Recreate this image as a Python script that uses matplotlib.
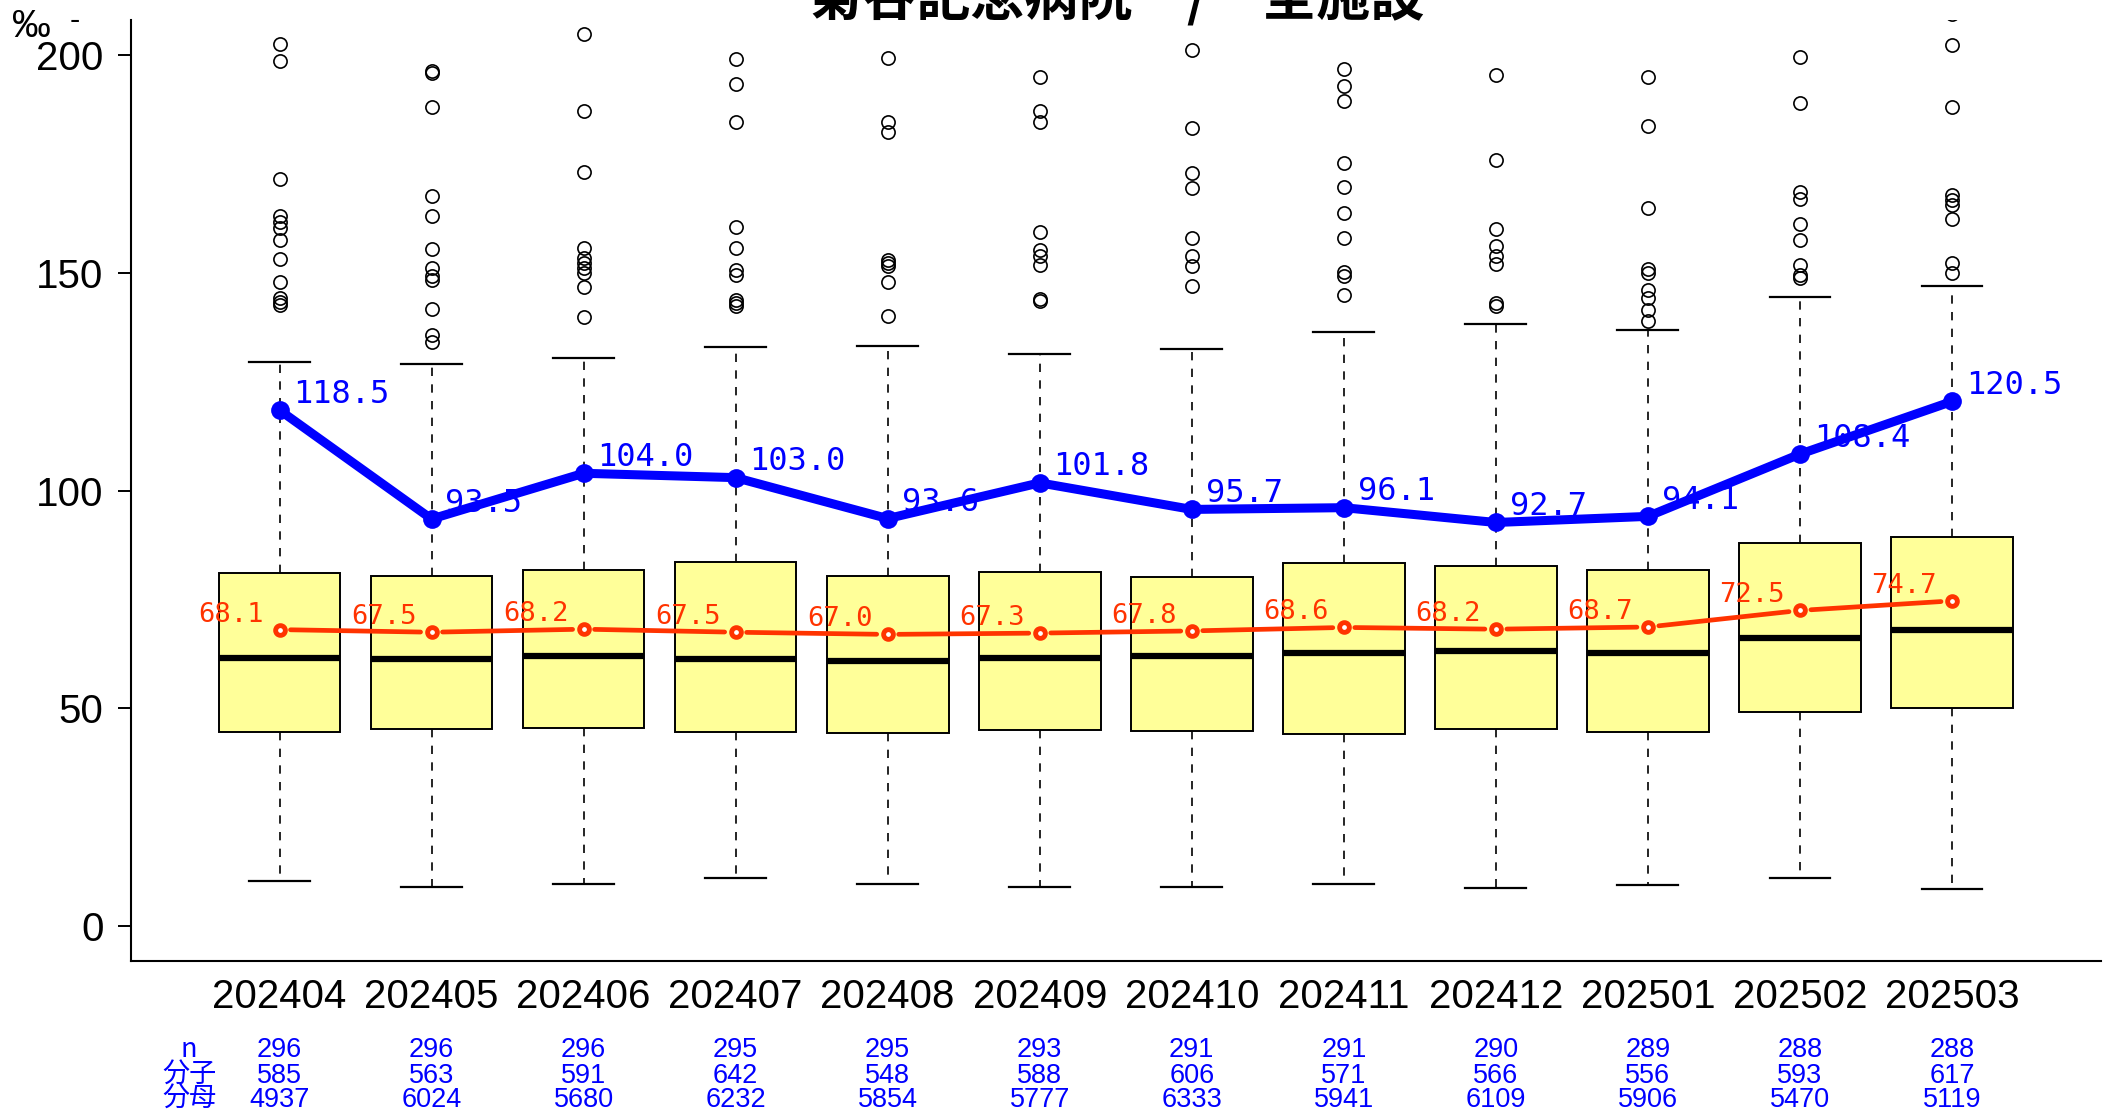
import numpy as np
import matplotlib
matplotlib.use("Agg")
import matplotlib.pyplot as plt
from matplotlib.transforms import blended_transform_factory

# ---------------- data ----------------
months = ['202404', '202405', '202406', '202407', '202408', '202409',
          '202410', '202411', '202412', '202501', '202502', '202503']
q1 = [44.7, 45.3, 45.5, 44.6, 44.3, 45.0, 44.9, 44.1, 45.3, 44.5, 49.1, 50.2]
med = [61.6, 61.3, 62.0, 61.4, 60.8, 61.6, 62.1, 62.7, 63.1, 62.7, 66.1, 67.9]
q3 = [81.0, 80.3, 81.8, 83.6, 80.5, 81.3, 80.1, 83.3, 82.8, 81.8, 88.0, 89.4]
whislo = [10.3, 9.1, 9.7, 11.0, 9.7, 9.1, 9.1, 9.7, 8.8, 9.4, 11.0, 8.5]
whishi = [129.6, 129.2, 130.4, 133.1, 133.3, 131.5, 132.6, 136.5, 138.2, 136.8, 144.4, 147.1]
fliers = [
    [202.6, 198.6, 171.5, 163.1, 161.8, 160.3, 157.5, 153.2, 147.9, 144.2, 143.4, 142.7],
    [196.4, 196.0, 188.0, 167.7, 163.0, 155.5, 151.1, 149.2, 148.3, 141.8, 135.8, 134.2],
    [210.0, 204.9, 187.2, 173.3, 155.7, 153.4, 152.2, 151.1, 150.0, 146.7, 139.8],
    [199.2, 193.4, 184.6, 160.5, 155.7, 150.6, 149.6, 143.8, 143.1, 142.3],
    [199.3, 184.6, 182.3, 153.0, 152.2, 151.5, 148.0, 140.1],
    [195.0, 187.1, 184.7, 159.5, 155.3, 153.8, 151.9, 144.1, 143.6],
    [201.3, 183.3, 172.9, 169.6, 158.1, 153.9, 151.5, 147.1],
    [196.9, 193.0, 189.5, 175.2, 169.8, 163.7, 158.1, 150.3, 149.3, 145.0],
    [195.5, 176.0, 160.1, 156.1, 153.8, 152.0, 143.1, 142.3],
    [195.1, 183.8, 165.0, 150.9, 149.9, 146.1, 144.2, 141.5, 139.0],
    [199.7, 189.1, 168.5, 166.9, 161.3, 157.6, 151.9, 149.6, 148.8],
    [209.5, 202.4, 188.2, 168.0, 166.8, 165.7, 162.3, 152.2, 150.1],
]
own_rate = [118.5, 93.5, 104.0, 103.0, 93.6, 101.8, 95.7, 96.1, 92.7, 94.1, 108.4, 120.5]
all_mean = [68.1, 67.5, 68.2, 67.5, 67.0, 67.3, 67.8, 68.6, 68.2, 68.7, 72.5, 74.7]
n_fac = [296, 296, 296, 295, 295, 293, 291, 291, 290, 289, 288, 288]
numer = [585, 563, 591, 642, 548, 588, 606, 571, 566, 556, 593, 617]
denom = [4937, 6024, 5680, 6232, 5854, 5777, 6333, 5941, 6109, 5906, 5470, 5119]
row_labels = ['n', '分子', '分母']
title = '菊谷記念病院\u3000/\u3000全施設'
unit = '‰'

# ---------------- styling ----------------
NUM_FONT = ['Liberation Sans', 'DejaVu Sans']
MONO_FONT = ['DejaVu Sans Mono']
CJK_FONT = ['Noto Sans CJK JP', 'DejaVu Sans']
BLUE = '#0000FF'
RED = '#FF3300'
BOXFILL = '#FFFF99'

W, H = 2109, 1119
fig = plt.figure(figsize=(W / 100, H / 100), dpi=100)
ax = fig.add_axes([130.5 / W, 1 - 961 / H, (2101 - 130.5) / W, (961 - 20.4) / H])
ax.set_xlim(0.02, 12.98)
ax.set_ylim(-8, 208)

x = np.arange(1, len(months) + 1)

stats = []
for i in range(len(months)):
    stats.append(dict(q1=q1[i], med=med[i], q3=q3[i], whislo=whislo[i],
                      whishi=whishi[i], fliers=fliers[i], label=months[i]))

ax.bxp(stats, positions=x, widths=0.8, capwidths=0.4, patch_artist=True,
       showfliers=True,
       boxprops=dict(facecolor=BOXFILL, edgecolor='black', linewidth=1.4),
       medianprops=dict(color='black', linewidth=4.5, solid_capstyle='butt'),
       whiskerprops=dict(color='black', linewidth=1.2, linestyle=(0, (5, 5))),
       capprops=dict(color='black', linewidth=1.6),
       flierprops=dict(marker='o', markerfacecolor='none', markeredgecolor='black',
                       markersize=9.5, markeredgewidth=1.2, linestyle='none'),
       zorder=2)

# red line (type "b": gaps around points)
pts = ax.transData.transform(np.column_stack([x, all_mean]))
inv = ax.transData.inverted()
gap = 11
for i in range(len(x) - 1):
    p0, p1 = pts[i], pts[i + 1]
    d = p1 - p0
    u = d / np.hypot(*d)
    a = inv.transform(p0 + u * gap)
    b = inv.transform(p1 - u * gap)
    ax.plot([a[0], b[0]], [a[1], b[1]], color=RED, lw=3.4, solid_capstyle='round', zorder=4)
ax.plot(x, all_mean, linestyle='none', marker='o', markersize=7, markeredgewidth=3.5,
        markerfacecolor='white', markeredgecolor=RED, zorder=4.5)
for xi, v in zip(x, all_mean):
    ax.annotate(f'{v:.1f}', (xi, v), xytext=(-11, 5.8), textcoords='offset points',
                ha='right', va='baseline', color=RED, fontsize=19.5, family=MONO_FONT,
                zorder=3)

# blue line
for xi, v in zip(x, own_rate):
    ax.annotate(f'{v:.1f}', (xi, v), xytext=(10, 5.4), textcoords='offset points',
                ha='left', va='baseline', color=BLUE, fontsize=23, family=MONO_FONT,
                zorder=5)
ax.plot(x, own_rate, color=BLUE, lw=6.5, marker='o', markersize=13.5, markeredgewidth=0,
        solid_joinstyle='round', zorder=6)

# axes styling
for s in ['top', 'right']:
    ax.spines[s].set_visible(False)
for s in ['left', 'bottom']:
    ax.spines[s].set_linewidth(1.5)
ax.set_yticks([0, 50, 100, 150, 200])
ax.set_yticklabels(['0', '50', '100', '150', '200'], family=NUM_FONT, fontsize=29)
ax.set_xticks(x)
ax.set_xticklabels(months, family=NUM_FONT, fontsize=29)
ax.tick_params(axis='x', length=0, pad=12)
ax.tick_params(axis='y', length=9.6, width=1.4, pad=9.8)

# bottom table
tr = blended_transform_factory(ax.transData, fig.transFigure)
rows_y = [1057, 1083, 1107]
rows_vals = [n_fac, numer, denom]
for ry, lab, vals in zip(rows_y, row_labels, rows_vals):
    ax.text(0.405, 1 - ry / H, lab, transform=tr, ha='center', va='baseline',
            color=BLUE, fontsize=19.5, family=CJK_FONT, clip_on=False)
    for xi, v in zip(x, vals):
        ax.text(xi, 1 - ry / H, str(v), transform=tr, ha='center', va='baseline',
                color=BLUE, fontsize=19.5, family=NUM_FONT, clip_on=False)

# title (partly cut off at top) and unit
fig.text(1116 / W, 1 - 15 / H, title, ha='center', va='baseline', fontsize=39,
         fontweight='bold', family=CJK_FONT)
fig.text(12 / W, 1 - 27 / H, unit, ha='left', va='center', fontsize=28, family=NUM_FONT)
fig.text(75 / W, 1 - 21 / H, '-', ha='center', va='center', fontsize=22, family=NUM_FONT)

fig.savefig('out.png', dpi=100)
